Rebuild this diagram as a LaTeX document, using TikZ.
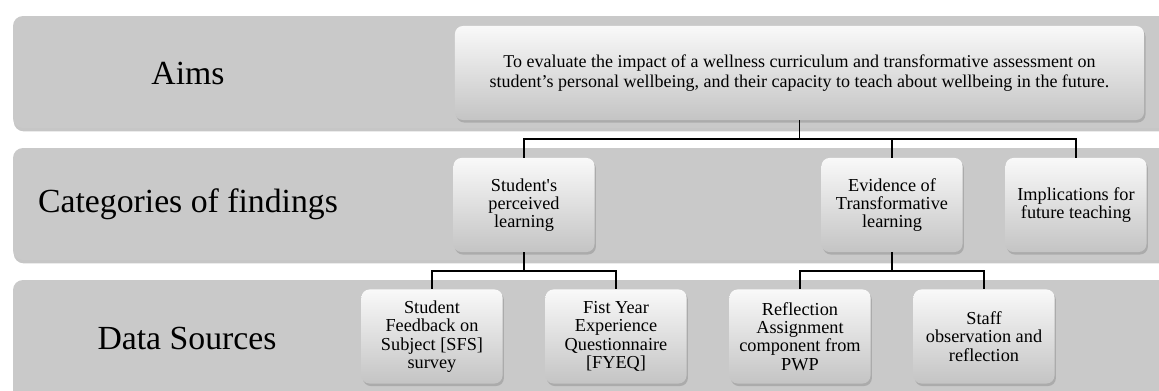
\documentclass[tikz,border=0pt]{standalone}
\usepackage{fontspec}
\setmainfont{Liberation Serif}
\usetikzlibrary{shadows, positioning}
\definecolor{bandgray}{RGB}{201,201,201}
\definecolor{boxtop}{RGB}{249,249,249}
\definecolor{boxbottom}{RGB}{196,196,196}

\begin{document}
\begin{tikzpicture}[x=0.025cm, y=-0.025cm,
		band/.style={fill=bandgray, rounded corners=0.25cm, drop shadow={shadow xshift=0.5pt, shadow yshift=-2.4pt, opacity=0.45}},
		bandlabel/.style={font=\fontsize{24}{26}\selectfont},
		itembox/.style={rounded corners=0.2cm, top color=boxtop, bottom color=boxbottom, minimum width=3.525cm, minimum height=2.35cm, inner sep=0pt, align=center, font=\fontsize{13}{13}\selectfont, drop shadow={shadow xshift=1pt, shadow yshift=-1.8pt, opacity=0.4}},
		link/.style={draw=black, line width=1.3pt}]
	\useasboundingbox (0,0) rectangle (1159,390);
	% three bands
	\foreach \top/\bot in {16/128, 148/260, 280/430}
		\path[band] (13,\top) rectangle (1200,\bot);
	% row labels
	\node[bandlabel] (laims) at (188,73) {Aims};
	\node[bandlabel] (lcat) at (188,204) {Categories of findings};
	\node[bandlabel] (ldata) at (187,338) {Data Sources};
	% aim
	\node[itembox, minimum width=17.225cm, font=\fontsize{12.8}{14}\selectfont] (aims) at (799.5,73) {To evaluate the impact of a wellness curriculum and transformative assessment on\\student’s personal wellbeing, and their capacity to teach about wellbeing in the future.};
	% categories
	\node[itembox] (catstudent) at (524,205) {Student\textquotesingle s\\perceived\\learning};
	\node[itembox] (catevidence) at (892,205) {Evidence of\\Transformative\\learning};
	\node[itembox] (catimpl) at (1076,205) {Implications for\\future teaching};
	% data sources
	\node[itembox] (dsfs) at (432,336.5) {Student\\Feedback on\\Subject [SFS]\\survey};
	\node[itembox] (dfyeq) at (616,336.5) {Fist Year\\Experience\\Questionnaire\\{[FYEQ]}};
	\node[itembox] (drefl) at (800,336.5) {Reflection\\Assignment\\component from\\PWP};
	\node[itembox] (dstaff) at (984,336.5) {Staff\\observation and\\reflection};
	% connectors
	\draw[link] (aims.south) -- ++(0,19) coordinate (aimsjoin);
	\foreach \c in {catstudent, catevidence, catimpl}
		\draw[link] (aimsjoin) -| (\c.north);
	\draw[link] (catstudent.south) -- ++(0,19) coordinate (studjoin);
	\foreach \d in {dsfs, dfyeq}
		\draw[link] (studjoin) -| (\d.north);
	\draw[link] (catevidence.south) -- ++(0,19) coordinate (evidjoin);
	\foreach \d in {drefl, dstaff}
		\draw[link] (evidjoin) -| (\d.north);
\end{tikzpicture}
\end{document}
